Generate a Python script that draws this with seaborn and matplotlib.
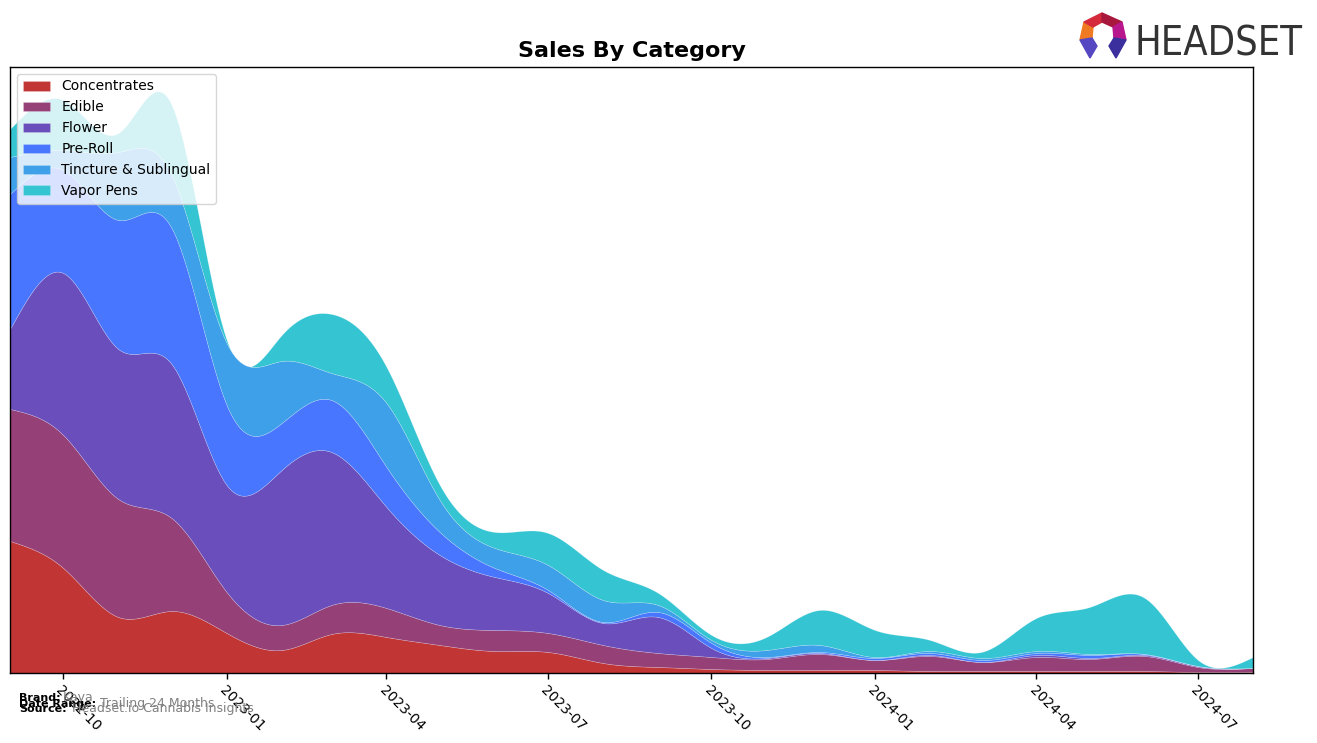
import numpy as np
import pandas as pd
import matplotlib
matplotlib.use("Agg")
import matplotlib.pyplot as plt
import matplotlib.dates as mdates
from matplotlib.patches import Polygon
import seaborn as sns

# =============================
# Dados mensais
# =============================
months = pd.date_range("2022-09-01", periods=24, freq="MS")
categories = ["Concentrates", "Edible", "Flower", "Pre-Roll", "Tincture & Sublingual", "Vapor Pens"]

concentrates = [132, 105, 56, 62, 40, 23, 39, 36, 28, 22, 21, 10, 6, 4, 3, 3, 3, 2, 2, 2, 2, 2, 1, 1]
edible = [132, 133, 118, 93, 41, 25, 29, 29, 20, 21, 19, 18, 14, 12, 11, 16, 10, 15, 9, 14, 12, 15, 5, 4]
flower = [80, 162, 150, 154, 107, 155, 153, 101, 70, 53, 40, 22, 36, 9, 1, 1, 0, 1, 0, 2, 1, 1, 1, 0]
pre_roll = [135, 103, 129, 136, 80, 47, 52, 40, 23, 9, 3, 1, 5, 5, 1, 1, 2, 2, 2, 2, 3, 1, 0, 0]
tincture = [37, 20, 68, 53, 62, 62, 27, 64, 32, 20, 25, 22, 7, 3, 7, 7, 1, 2, 2, 2, 1, 0, 0, 0]
vapor_pens = [28, 50, 19, 70, 3, 26, 59, 36, 15, 16, 32, 30, 12, 5, 13, 35, 27, 11, 6, 33, 47, 56, 6, 11]

colors = ["#c23535", "#964078", "#694ebc", "#4876ff", "#3ea0e8", "#34c4d2"]


def smooth(xs, ys, xf):
    # spline cúbica natural só para suavizar o desenho
    xs = np.asarray(xs, float)
    ys = np.asarray(ys, float)
    n = len(xs)
    h = np.diff(xs)
    A = np.zeros((n, n))
    r = np.zeros(n)
    A[0, 0] = A[-1, -1] = 1
    for i in range(1, n - 1):
        A[i, i - 1] = h[i - 1]
        A[i, i] = 2 * (h[i - 1] + h[i])
        A[i, i + 1] = h[i]
        r[i] = 6 * ((ys[i + 1] - ys[i]) / h[i] - (ys[i] - ys[i - 1]) / h[i - 1])
    M = np.linalg.solve(A, r)
    k = np.clip(np.searchsorted(xs, xf, side="right") - 1, 0, n - 2)
    hk = h[k]
    a = xs[k + 1] - xf
    b = xf - xs[k]
    s = (M[k] * a ** 3 + M[k + 1] * b ** 3) / (6 * hk) \
        + (ys[k] / hk - M[k] * hk / 6) * a + (ys[k + 1] / hk - M[k + 1] * hk / 6) * b
    return np.clip(s, 0, None)


x = mdates.date2num(months)
xf = np.linspace(x[0], x[-1], 600)
series = [concentrates, edible, flower, pre_roll, tincture, vapor_pens]
smoothed = [smooth(x, s, xf) for s in series]

# =============================
# Gráfico
# =============================
sns.set_style("white")
plt.rcParams["font.family"] = ["DejaVu Sans"]
plt.rcParams["text.color"] = "black"
plt.rcParams["xtick.color"] = "black"

fig = plt.figure(figsize=(13.17, 7.43), dpi=100)
ax = fig.add_axes([10 / 1317, 1 - 673 / 743, 1243 / 1317, 606 / 743])

ax.stackplot(xf, *smoothed, labels=categories, colors=colors,
             edgecolor=(1, 1, 1, 0.3), linewidth=0.4)

ax.set_xlim(x[0], x[-1])
ax.set_ylim(0, 606)
ax.set_yticks([])
ax.xaxis.set_major_locator(mdates.MonthLocator(bymonth=[1, 4, 7, 10]))
ax.xaxis.set_major_formatter(mdates.DateFormatter("%Y-%m"))
ax.tick_params(axis="x", which="major", bottom=True, length=4, width=1, labelsize=10, colors="black")
for lbl in ax.get_xticklabels():
    lbl.set_rotation(-45)
    lbl.set_ha("left")
    lbl.set_rotation_mode("anchor")

for sp in ax.spines.values():
    sp.set_color("black")
    sp.set_linewidth(1)

ax.set_title("Sales By Category", fontsize=16, fontweight="bold", pad=7, color="black")
ax.legend(loc="upper left", fontsize=10, framealpha=0.8)

# rodapé
fig.text(19 / 1317, 1 - 701 / 743, "Brand:", fontsize=8, fontweight="bold")
fig.text(63 / 1317, 1 - 701 / 743, "Kaya", fontsize=9, color="gray")
fig.text(19 / 1317, 1 - 707 / 743, "Date Range:", fontsize=8, fontweight="bold")
fig.text(100 / 1317, 1 - 707 / 743, "Trailing 24 Months", fontsize=9, color="gray")
fig.text(19 / 1317, 1 - 712 / 743, "Source:", fontsize=8, fontweight="bold")
fig.text(72 / 1317, 1 - 712 / 743, "Headset.io Cannabis Insights", fontsize=9, color="gray")

# logo
logo = fig.text(1134 / 1317, 1 - 55 / 743, "HEADSET", fontsize=34, color="#333333",
                fontstretch="condensed")
rend = fig.canvas.get_renderer()
w = logo.get_window_extent(rend).width
logo.set_fontsize(34 * 168 / w)

lax = fig.add_axes([1078 / 1317, 1 - 60 / 743, 50 / 1317, 48 / 743])
lax.set_xlim(0, 50)
lax.set_ylim(0, 48)
lax.axis("off")
shapes = [
    ([(2, 20), (6, 38), (15, 33), (14, 22)], "#f07a22"),
    ([(6, 38), (24, 47), (24, 38), (15, 33)], "#d42a3c"),
    ([(24, 47), (44, 38), (35, 33), (24, 38)], "#a8183c"),
    ([(44, 38), (48, 20), (36, 22), (35, 33)], "#b8168c"),
    ([(2, 20), (14, 22), (19, 14), (12, 2)], "#5546c2"),
    ([(48, 20), (36, 22), (31, 14), (38, 2)], "#3b2f9e"),
]
for pts, c in shapes:
    lax.add_patch(Polygon(pts, closed=True, color=c))

fig.savefig("out.png", dpi=100)
